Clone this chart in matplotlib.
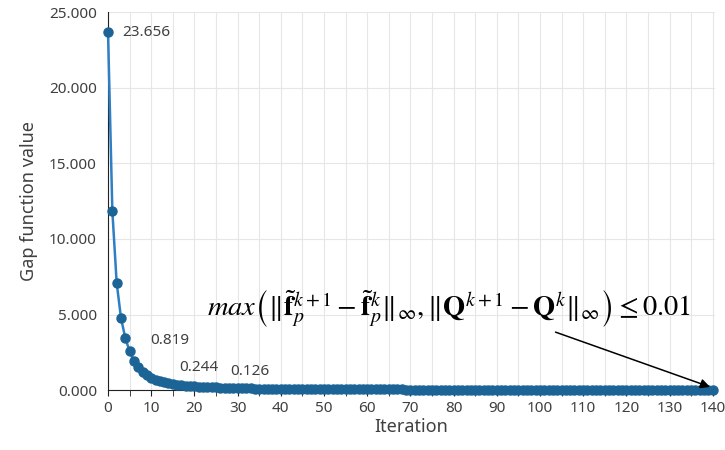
import numpy as np
import matplotlib
matplotlib.use("Agg")
import matplotlib.pyplot as plt

plt.rcParams['font.family'] = ['Noto Sans', 'DejaVu Sans']
plt.rcParams['mathtext.fontset'] = 'stix'

gap = [
    23.656, 11.85, 7.10, 4.78, 3.44, 2.58, 1.95, 1.52, 1.21, 0.99,      # 0-9
    0.819, 0.69, 0.59, 0.51, 0.45, 0.40, 0.36, 0.32, 0.29, 0.265,       # 10-19
    0.244, 0.228, 0.214, 0.202, 0.190, 0.180, 0.165, 0.155, 0.145, 0.135,  # 20-29
    0.126, 0.120, 0.115, 0.110, 0.106, 0.102, 0.098, 0.095, 0.092, 0.089,  # 30-39
    0.086, 0.083, 0.081, 0.079, 0.077, 0.075, 0.073, 0.071, 0.069, 0.067,  # 40-49
    0.065, 0.063, 0.062, 0.060, 0.059, 0.057, 0.056, 0.055, 0.053, 0.052,  # 50-59
    0.051, 0.050, 0.049, 0.048, 0.047, 0.046, 0.045, 0.044, 0.043, 0.042,  # 60-69
    0.041, 0.040, 0.039, 0.039, 0.038, 0.037, 0.036, 0.036, 0.035, 0.034,  # 70-79
    0.034, 0.033, 0.032, 0.032, 0.031, 0.031, 0.030, 0.029, 0.029, 0.028,  # 80-89
    0.028, 0.027, 0.027, 0.026, 0.026, 0.025, 0.025, 0.024, 0.024, 0.023,  # 90-99
    0.023, 0.022, 0.022, 0.022, 0.021, 0.021, 0.020, 0.020, 0.020, 0.019,  # 100-109
    0.019, 0.018, 0.018, 0.018, 0.017, 0.017, 0.017, 0.016, 0.016, 0.016,  # 110-119
    0.015, 0.015, 0.015, 0.014, 0.014, 0.014, 0.014, 0.013, 0.013, 0.013,  # 120-129
    0.012, 0.012, 0.012, 0.012, 0.011, 0.011, 0.011, 0.011, 0.010, 0.010,  # 130-139
    0.010,                                                               # 140
]
iters = np.arange(len(gap))

labeled = [0, 10, 20, 30]
label_text = ['23.656', '0.819', '0.244', '0.126']
label_offsets = [(10, 0), (13, 27), (3, 14), (9, 12)]

fig = plt.figure(figsize=(7.25, 4.5), dpi=100)
ax = fig.add_axes([0.149, 0.133, 0.837, 0.84])

ax.plot(iters, gap, color='#2e7fc4', linewidth=1.8, marker='o', markersize=6.5,
        markerfacecolor='#1c6496', markeredgecolor='#1c6496', clip_on=False, zorder=3)

# data labels
for i, t, off in zip(labeled, label_text, label_offsets):
    ax.annotate(t, (i, gap[i]), xytext=off, textcoords='offset points',
                va='center', ha='left' if i == 0 else 'center',
                fontsize=11, color='#404040')

ax.set_xlim(0, 140.5)
ax.set_ylim(0, 25)
ax.set_xticks(np.arange(0, 141, 10))
ax.set_xticks(np.arange(0, 141, 5), minor=True)
ax.set_yticks(np.arange(0, 25.1, 5))
ax.set_yticklabels([f'{v:.3f}' for v in np.arange(0, 25.1, 5)])

ax.grid(True, which='both', axis='x', color='#e6e6e6', linewidth=0.8)
ax.grid(True, which='major', axis='y', color='#e6e6e6', linewidth=0.8)
ax.set_axisbelow(True)

for s in ['top', 'right']:
    ax.spines[s].set_visible(False)
ax.spines['left'].set_color('#222222')
ax.spines['bottom'].set_color('#222222')
ax.tick_params(axis='x', which='major', length=4, colors='#222222', labelcolor='#404040', labelsize=11)
ax.tick_params(axis='x', which='minor', length=4, colors='#222222')
ax.tick_params(axis='y', length=0, labelcolor='#404040', labelsize=11, pad=8)

ax.set_xlabel('Iteration', fontsize=13, color='#404040', labelpad=2)
ax.set_ylabel('Gap function value', fontsize=13, color='#404040', labelpad=8)

formula = (r'$max\left(\Vert\tilde{\mathbf{f}}_p^{k+1}-\tilde{\mathbf{f}}_p^{k}\Vert_\infty,'
           r'\Vert\mathbf{Q}^{k+1}-\mathbf{Q}^{k}\Vert_\infty\right)\leq 0.01$')
ax.text(79, 5.4, formula, fontsize=20.5, ha='center', va='center', color='black')
ax.annotate('', xy=(140, 0.15), xytext=(103, 3.9),
            arrowprops=dict(arrowstyle='-|>', color='black', lw=1.1, mutation_scale=14))

fig.savefig('out.png', dpi=100)
